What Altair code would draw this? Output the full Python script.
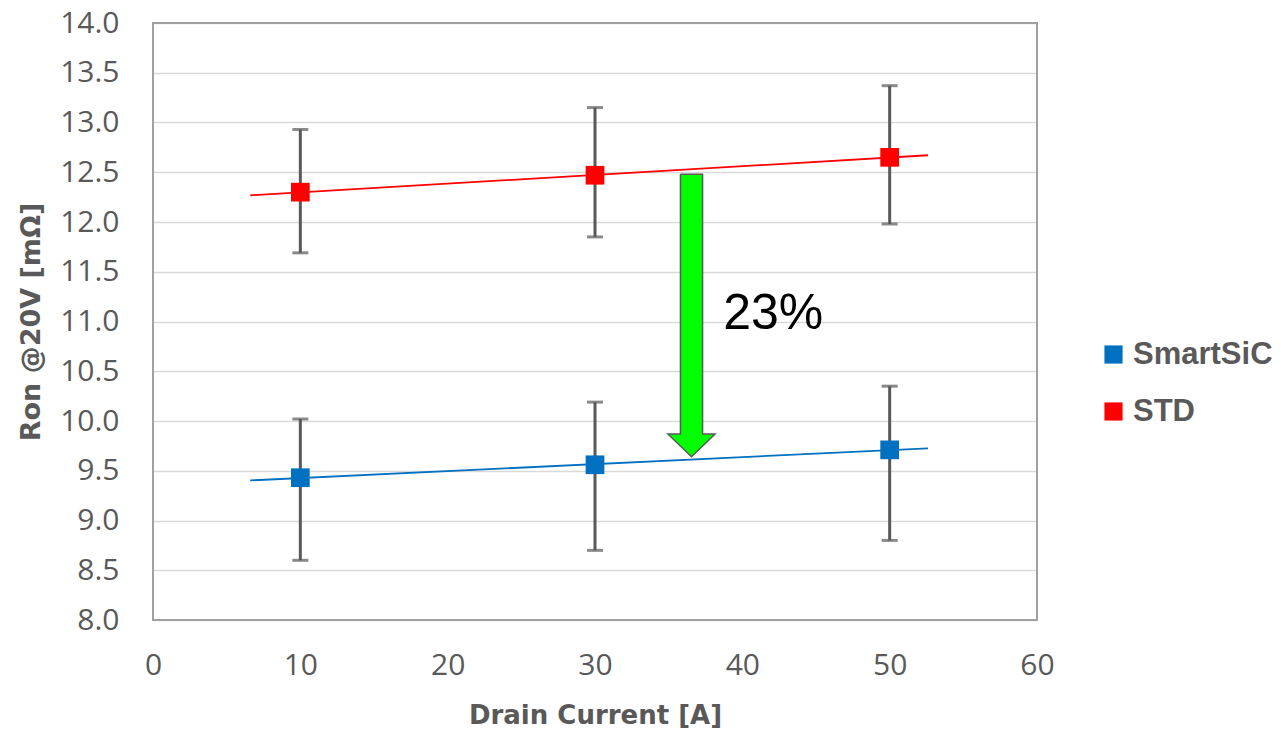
import altair as alt
import pandas as pd

# ---- data ----
currents = [10, 30, 50]
series_names = ["SmartSiC", "STD"]
smartsic_ron = [9.43, 9.56, 9.71]
smartsic_lo = [8.60, 8.70, 8.80]
smartsic_hi = [10.02, 10.19, 10.35]
std_ron = [12.30, 12.47, 12.65]
std_lo = [11.69, 11.85, 11.98]
std_hi = [12.93, 13.15, 13.37]
colors = ["#0070C0", "#FF0000"]

trend_extent = [6.6, 52.6]

# arrow outline polygon (data coords), in drawing order
arrow_x = [35.8, 37.3, 37.3, 38.15, 36.55, 34.95, 35.8, 35.8]
arrow_y = [12.48, 12.48, 9.87, 9.87, 9.64, 9.87, 9.87, 12.48]

label_text = ["23%"]
label_x = [38.7]
label_y = [10.92]

y_ticks = [8.0, 8.5, 9.0, 9.5, 10.0, 10.5, 11.0, 11.5, 12.0, 12.5, 13.0, 13.5, 14.0]
x_ticks = [0, 10, 20, 30, 40, 50, 60]

rows = []
for s, vals, lo, hi in [("SmartSiC", smartsic_ron, smartsic_lo, smartsic_hi),
                        ("STD", std_ron, std_lo, std_hi)]:
    for c, v, l, h in zip(currents, vals, lo, hi):
        rows.append({"series": s, "current": c, "ron": v, "lo": l, "hi": h})
df = pd.DataFrame(rows)

arrow_df = pd.DataFrame({"i": list(range(len(arrow_x))), "x": arrow_x, "y": arrow_y})
text_df = pd.DataFrame({"t": label_text, "x": label_x, "y": label_y})

xscale = alt.Scale(domain=[0, 60], nice=False, zero=False)
yscale = alt.Scale(domain=[8, 14], nice=False, zero=False)
cscale = alt.Scale(domain=series_names, range=colors)

xaxis = alt.Axis(values=x_ticks, title="Drain Current [A]", grid=False, ticks=False,
                 domain=False, labelFont="Open Sans", labelFontSize=30,
                 labelColor="#595959", labelPadding=30, labelFlush=False,
                 titleFont="DejaVu Sans", titleFontWeight="bold", titleFontSize=26,
                 titleColor="#595959", titlePadding=22)
yaxis = alt.Axis(values=y_ticks, format=".1f", title="Ron @20V [mΩ]", grid=True,
                 gridColor="#d9d9d9", gridWidth=1.5, ticks=False, domain=False,
                 labelFont="Open Sans", labelFontSize=30, labelColor="#595959",
                 labelPadding=34, labelBaseline="middle", labelFlush=False,
                 titleFont="DejaVu Sans", titleFontWeight="bold", titleFontSize=27,
                 titleColor="#595959", titleX=-108, titleY=298.5,
                 titleAlign="center", titleBaseline="bottom", titleAngle=270)

legend = alt.Legend(
    title=None, orient="none", legendX=945, legendY=316,
    symbolType="square", symbolSize=330, symbolStrokeWidth=0,
    labelFont="Liberation Sans", labelFontWeight="bold", labelFontSize=31,
    labelColor="#595959", labelOffset=4, rowPadding=25, padding=0)

base = alt.Chart(df)

trend = base.transform_regression(
    "current", "ron", groupby=["series"], extent=trend_extent
).mark_line(strokeWidth=1.8).encode(
    x=alt.X("current:Q", scale=xscale, axis=xaxis),
    y=alt.Y("ron:Q", scale=yscale, axis=yaxis),
    color=alt.Color("series:N", scale=cscale, legend=legend),
)

err = base.mark_rule(color="#595959", strokeWidth=3).encode(
    x=alt.X("current:Q", scale=xscale),
    y=alt.Y("lo:Q", scale=yscale),
    y2="hi:Q",
)
cap_lo = base.mark_tick(color="#595959", thickness=3, size=16, orient="horizontal").encode(
    x=alt.X("current:Q", scale=xscale),
    y=alt.Y("lo:Q", scale=yscale),
)
cap_hi = base.mark_tick(color="#595959", thickness=3, size=16, orient="horizontal").encode(
    x=alt.X("current:Q", scale=xscale),
    y=alt.Y("hi:Q", scale=yscale),
)

pts = base.mark_square(size=350, opacity=1, cornerRadius=2).encode(
    x=alt.X("current:Q", scale=xscale),
    y=alt.Y("ron:Q", scale=yscale),
    color=alt.Color("series:N", scale=cscale, legend=legend),
)

arrow = alt.Chart(arrow_df).mark_line(
    fill="#00FF00", stroke="#595959", strokeWidth=1.5, opacity=1, strokeJoin="miter"
).encode(
    x=alt.X("x:Q", scale=xscale),
    y=alt.Y("y:Q", scale=yscale),
    order=alt.Order("i:Q"),
)

txt = alt.Chart(text_df).mark_text(
    font="Liberation Sans", fontSize=50, color="#000000", align="left", baseline="alphabetic"
).encode(
    x=alt.X("x:Q", scale=xscale),
    y=alt.Y("y:Q", scale=yscale),
    text="t:N",
)

frame = alt.Chart(pd.DataFrame({"a": [0]})).mark_rect(
    fillOpacity=0, stroke="#a0a0a0", strokeWidth=2
).encode(
    x=alt.value(0), x2=alt.value(884), y=alt.value(0), y2=alt.value(597)
)

chart = alt.layer(trend, err, cap_lo, cap_hi, arrow, pts, txt, frame).properties(
    width=884, height=597,
    autosize=alt.AutoSizeParams(type="none"),
    padding={"left": 153, "top": 23, "right": 244, "bottom": 114},
).configure_view(stroke=None).configure(background="white")

chart.save("out.html", embed_options={"renderer": "svg", "actions": False})
